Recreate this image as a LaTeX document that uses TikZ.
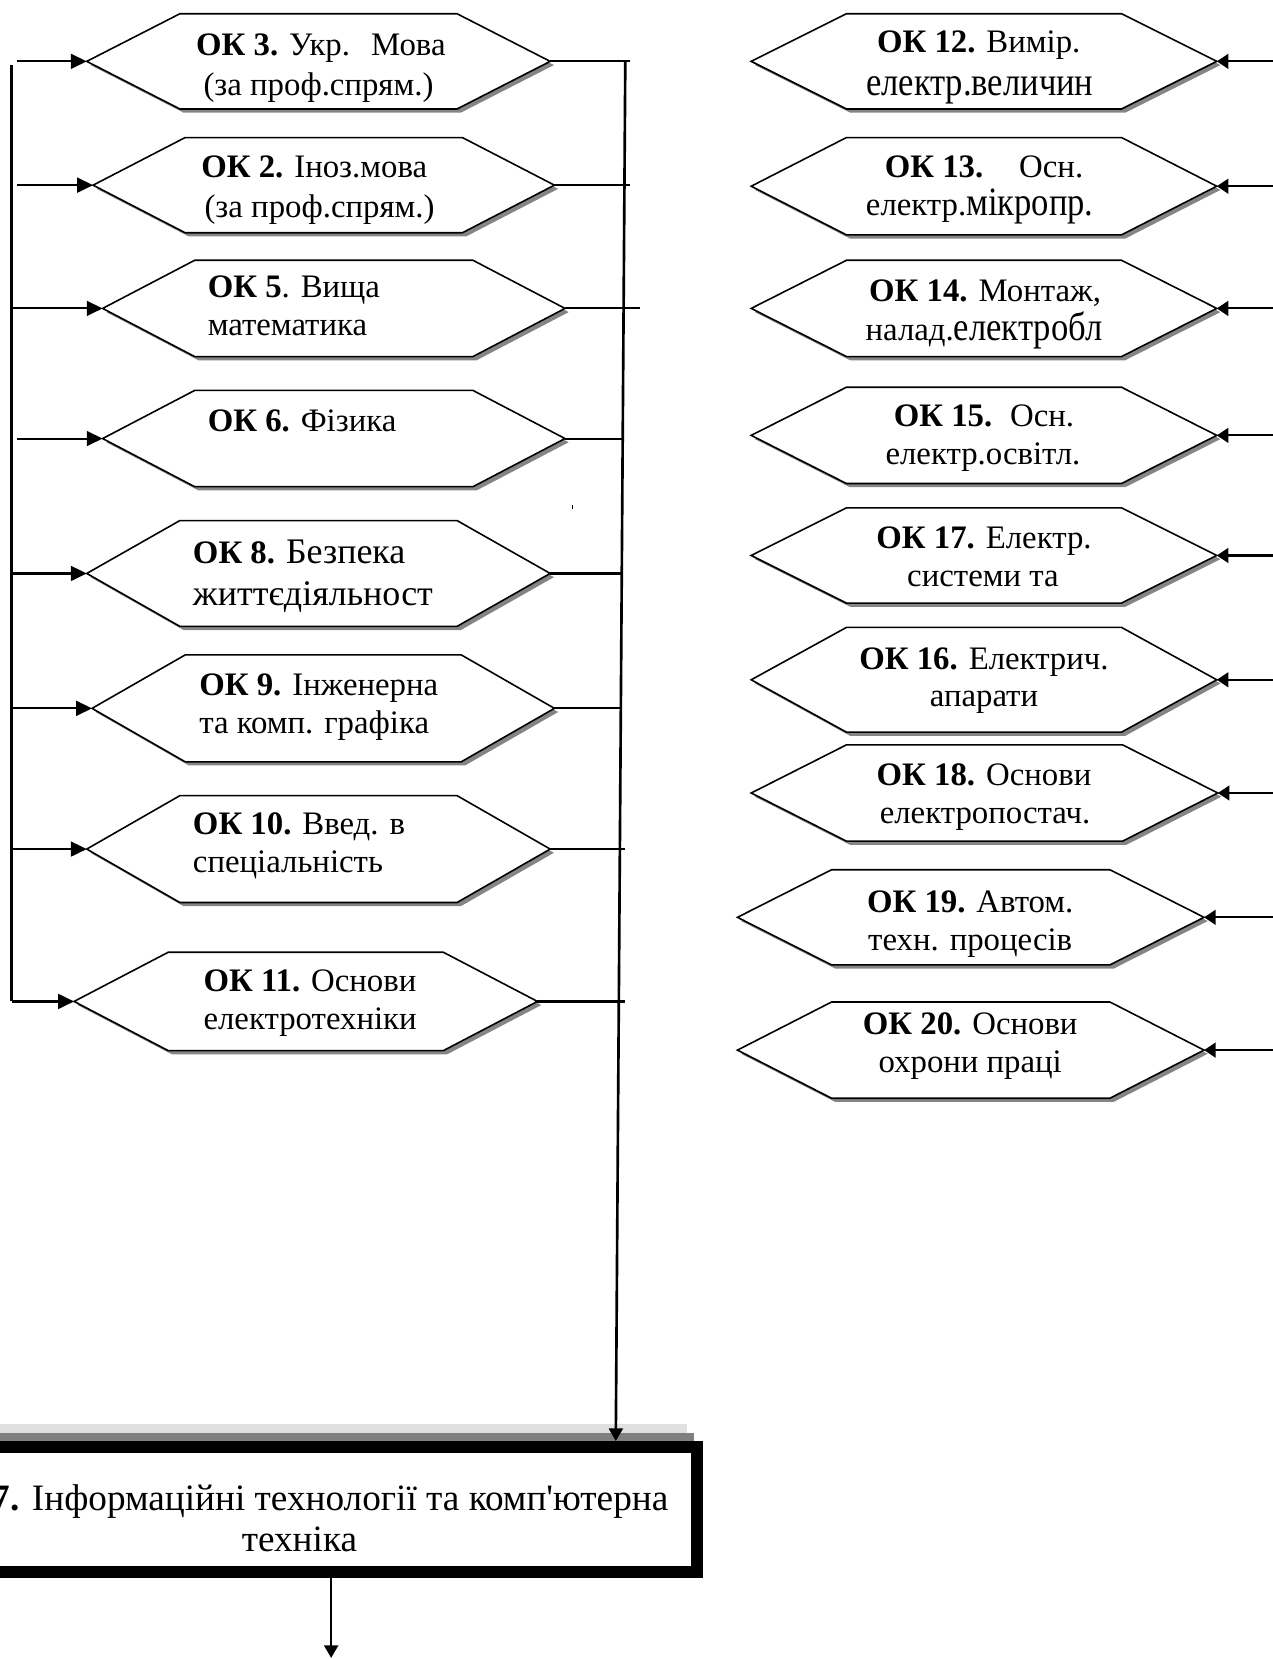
\documentclass[tikz,border=0pt]{standalone}
\usepackage{fontspec}
\setmainfont{Liberation Serif}[Ligatures=TeXOff]
\newfontfamily\altfont{Liberation Serif}[FakeStretch=0.86]
\usetikzlibrary{arrows.meta}
\newcommand\normf{\fontsize{15.5}{18}\selectfont}
\newcommand\altf{\altfont\fontsize{19}{20}\selectfont}
\newcommand\bigf{\fontsize{17}{18}\selectfont}
\newcommand\boxf{\fontsize{17.6}{20}\selectfont}
\tikzset{
  hexline/.style={draw=black, line width=0.75pt, fill=white},
  hexshadow/.style={fill=black!48},
  conn/.style={line width=1pt},
  collector/.style={line width=1.25pt},
  arrL/.style={conn, -{Triangle[length=7.5pt,width=7pt]}},
  arrR/.style={conn, -{Triangle[length=5.5pt,width=7pt]}},
  arrD/.style={collector, -{Triangle[length=6pt,width=6.6pt]}},
  txt/.style={inner sep=0pt, font=\normf},
  bigbox/.style={draw=black, line width=5.5pt, fill=white, inner sep=0pt,
    minimum width=376.5pt, minimum height=59pt},
}
% #1 name, #2 L, #3 R, #4 T, #5 B, #6 inset
\newcommand\hexa[6]{%
  \fill[hexshadow] ({#2+3.5},{(#4+#5)/2+3.5}) -- ({#2+#6+3.5},{#4+3.5}) -- ({#3-#6+3.5},{#4+3.5}) -- ({#3+3.5},{(#4+#5)/2+3.5}) -- ({#3-#6+3.5},{#5+3.5}) -- ({#2+#6+3.5},{#5+3.5}) -- cycle;
  \draw[hexline] (#2,{(#4+#5)/2}) coordinate (#1L) -- ({#2+#6},#4) -- ({#3-#6},#4) -- (#3,{(#4+#5)/2}) coordinate (#1R) -- ({#3-#6},#5) -- ({#2+#6},#5) -- cycle;
}
\begin{document}
\begin{tikzpicture}[x=0.5pt,y=-0.5pt]
\useasboundingbox (0,0) rectangle (1203,1568);
\clip (0,0) rectangle (1203,1568);

% ---------- left column ----------
\hexa{h3}{82}{520}{13}{103}{88}
\hexa{h2}{88}{524}{130}{220}{87}
\hexa{h5}{97}{534}{246}{337}{87}
\hexa{h6}{97}{534}{369}{460}{87}
\hexa{h8}{82}{520}{492}{592}{88}
\hexa{h9}{87}{524}{619}{720}{88}
\hexa{h10}{82}{520}{752}{853}{88}
\hexa{h11}{70}{508}{900}{993}{89}

% ---------- right column ----------
\hexa{h12}{710}{1150}{13}{103}{90}
\hexa{h13}{710}{1150}{130}{222}{90}
\hexa{h14}{710}{1150}{246}{337}{90}
\hexa{h15}{710}{1150}{366}{457}{90}
\hexa{h17}{710}{1150}{480}{570}{90}
\hexa{h16}{710}{1150}{593}{692}{90}
\hexa{h18}{710}{1151}{704}{795}{90}
\hexa{h19}{697}{1138}{822}{912}{89}
\hexa{h20}{697}{1138}{947}{1038}{89}

% ---------- texts left ----------
\node[txt,anchor=base west] (t3a) at (185,52) {\textbf{ОК 3.} Укр.\hspace{10pt}Мова};
\node[txt,anchor=base] (t3b) at (301,90) {(за проф.спрям.)};
\node[txt,anchor=base] (t2a) at (297,168) {\textbf{ОК 2.} Іноз.мова};
\node[txt,anchor=base] (t2b) at (302,206) {(за проф.спрям.)};
\node[txt,anchor=base west] (t5a) at (196,281) {\textbf{ОК 5}. Вища};
\node[txt,anchor=base west] (t5b) at (196,317) {математика};
\node[txt,anchor=base west] (t6a) at (196,408) {\textbf{ОК 6.} Фізика};
\node[txt,anchor=base west] (t8a) at (182,533) {\textbf{ОК 8.} {\bigf Безпека}};
\node[txt,anchor=base west] (t8b) at (182,572) {\bigf життєдіяльност};
\node[txt,anchor=base west] (t9a) at (188,657) {\textbf{ОК 9.} Інженерна};
\node[txt,anchor=base west] (t9b) at (188,693) {та комп. графіка};
\node[txt,anchor=base west] (t10a) at (182,789) {\textbf{ОК 10.} Введ. в};
\node[txt,anchor=base west] (t10b) at (182,825) {спеціальність};
\node[txt,anchor=base west] (t11a) at (192,937) {\textbf{ОК 11.} Основи};
\node[txt,anchor=base west] (t11b) at (192,973) {електротехніки};

% ---------- texts right ----------
\node[txt,anchor=base] (t12a) at (925,50) {\textbf{ОК 12.} Вимір.};
\node[txt,anchor=base] (t12b) at (926,90) {\altf електр.величин};
\node[txt,anchor=base] (t13a) at (930,168) {\textbf{ОК 13.}\hspace{17pt}Осн.};
\node[txt,anchor=base] (t13b) at (926,204) {електр.{\altf мікропр.}};
\node[txt,anchor=base] (t14a) at (931,285) {\textbf{ОК 14.} Монтаж,};
\node[txt,anchor=base] (t14b) at (930,322) {налад.{\altf електробл}};
\node[txt,anchor=base] (t15a) at (930,403) {\textbf{ОК 15.}\hspace{8.4pt}Осн.};
\node[txt,anchor=base] (t15b) at (929,439) {електр.освітл.};
\node[txt,anchor=base] (t17a) at (930,518) {\textbf{ОК 17.} Електр.};
\node[txt,anchor=base] (t17b) at (929,554) {системи та};
\node[txt,anchor=base] (t16a) at (930,633) {\textbf{ОК 16.} Електрич.};
\node[txt,anchor=base] (t16b) at (930,668) {апарати};
\node[txt,anchor=base] (t18a) at (930,742) {\textbf{ОК 18.} Основи};
\node[txt,anchor=base] (t18b) at (931,778) {електропостач.};
\node[txt,anchor=base] (t19a) at (917,862) {\textbf{ОК 19.} Автом.};
\node[txt,anchor=base] (t19b) at (917,898) {техн. процесів};
\node[txt,anchor=base] (t20a) at (917,978) {\textbf{ОК 20.} Основи};
\node[txt,anchor=base] (t20b) at (917,1014) {охрони праці};

% ---------- bottom box ----------
\fill[black!12] (0,1346) rectangle (649,1354);
\fill[black!50] (0,1354) rectangle (656,1362);
\node[bigbox] (ok7) at (282,1426.5) {};
\node[inner sep=0pt,anchor=base,font=\boxf] (t7a) at (281,1428) {\textbf{ОК 7.} Інформаційні технології та комп'ютерна};
\node[inner sep=0pt,anchor=base,font=\boxf] (t7b) at (283,1466) {техніка};

% ---------- left connectors ----------
\coordinate (lvtop) at (11,61);
\coordinate (lvbot) at (11,946.5);
\coordinate (g3) at (16,58);
\coordinate (g2) at (16,175);
\coordinate (g5) at (11,291.5);
\coordinate (g6) at (16,414.5);
\coordinate (g8) at (11,542);
\coordinate (g9) at (11,669.5);
\coordinate (g10) at (11,802.5);
\draw[collector] (lvtop) -- (lvbot);
\draw[arrL] (g3) -- (h3L);
\draw[arrL] (g2) -- (h2L);
\draw[arrL] (g5) -- (h5L);
\draw[arrL] (g6) -- (h6L);
\draw[arrL] (g8) -- (h8L);
\draw[arrL] (g9) -- (h9L);
\draw[arrL] (g10) -- (h10L);
\draw[arrL] (lvbot) -- (h11L);

% ---------- right collector ----------
\coordinate (rvtop) at (591,58);
\coordinate (rvbot) at (582,1362);
\coordinate (r3) at (595,58);
\coordinate (r2) at (595,175);
\coordinate (r5) at (605,291.5);
\coordinate (r6) at (590,414.5);
\coordinate (r8) at (588,542);
\coordinate (r9) at (587,669.5);
\coordinate (r10) at (591,802.5);
\coordinate (r11) at (591,946.5);
\draw[conn] (h3R) -- (r3);
\draw[conn] (h2R) -- (r2);
\draw[conn] (h5R) -- (r5);
\draw[conn] (h6R) -- (r6);
\draw[conn] (h8R) -- (r8);
\draw[conn] (h9R) -- (r9);
\draw[conn] (h10R) -- (r10);
\draw[conn] (h11R) -- (r11);
\draw[arrD] (rvtop) -- (ok7.north -| rvbot);

% ---------- right column arrows ----------
\coordinate (e12) at (1203,58);
\coordinate (e13) at (1203,176);
\coordinate (e14) at (1203,291.5);
\coordinate (e15) at (1203,411.5);
\coordinate (e17) at (1203,525);
\coordinate (e16) at (1203,642.5);
\coordinate (e18) at (1203,749.5);
\coordinate (e19) at (1203,867);
\coordinate (e20) at (1203,992.5);
\draw[arrR] (e12) -- (h12R);
\draw[arrR] (e13) -- (h13R);
\draw[arrR] (e14) -- (h14R);
\draw[arrR] (e15) -- (h15R);
\draw[arrR] (e17) -- (h17R);
\draw[arrR] (e16) -- (h16R);
\draw[arrR] (e18) -- (h18R);
\draw[arrR] (e19) -- (h19R);
\draw[arrR] (e20) -- (h20R);

% ---------- output arrow ----------
\coordinate (outend) at (313,1567);
\draw[arrD] (ok7.south -| outend) -- (outend);

% stray mark
\draw[line width=0.5pt] (541,477) -- (541,481);
\end{tikzpicture}
\end{document}
